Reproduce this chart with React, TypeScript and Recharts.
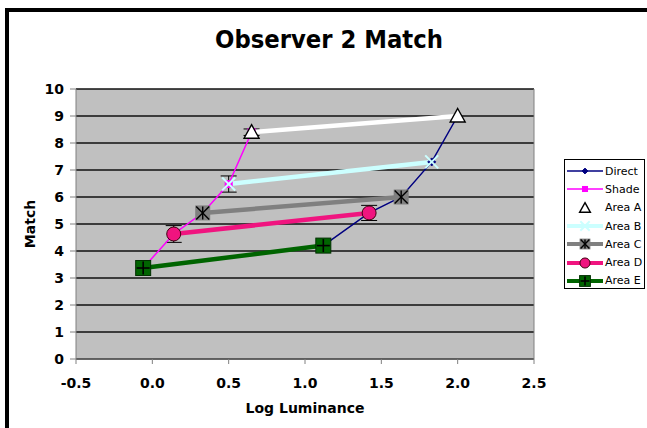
import { CartesianGrid, ErrorBar, Line, LineChart, ReferenceLine, XAxis, YAxis } from 'recharts';

// axis ticks
const xTicks = [-0.5, 0, 0.5, 1, 1.5, 2, 2.5];
const yTicks = [0, 1, 2, 3, 4, 5, 6, 7, 8, 9, 10];

// Direct (log luminance, match, error)
const directX = [1.12, 1.42, 1.63, 1.83, 2.0];
const directY = [4.2, 5.41, 6.0, 7.3, 9.0];
const directErr = [null, 0.28, null, null, null];

// Shade
const shadeX = [-0.06, 0.14, 0.33, 0.5, 0.65];
const shadeY = [3.37, 4.63, 5.41, 6.48, 8.4];
const shadeErr = [null, 0.31, null, 0.3, 0.12];

// Areas: shade point -> direct point
const areaAX = [0.65, 2.0];
const areaAY = [8.4, 9.0];
const areaBX = [0.5, 1.83];
const areaBY = [6.48, 7.3];
const areaCX = [0.33, 1.63];
const areaCY = [5.41, 6.0];
const areaDX = [0.14, 1.42];
const areaDY = [4.63, 5.41];
const areaEX = [-0.06, 1.12];
const areaEY = [3.37, 4.2];

type Kind = 'diamond' | 'square' | 'triangle' | 'xmark' | 'star' | 'circle' | 'plus';

const toPoints = (xs: number[], ys: number[], errs?: (number | null)[]) =>
  xs.map((x, i) => ({ x, y: ys[i], err: errs ? errs[i] : null }));

const series = [
  { name: 'Direct', data: toPoints(directX, directY, directErr), color: '#000080', width: 1.5, kind: 'diamond' as Kind },
  { name: 'Shade', data: toPoints(shadeX, shadeY, shadeErr), color: '#ff00ff', width: 1.5, kind: 'square' as Kind },
  { name: 'Area A', data: toPoints(areaAX, areaAY), color: '#ffffff', width: 4.5, kind: 'triangle' as Kind },
  { name: 'Area B', data: toPoints(areaBX, areaBY), color: '#ccffff', width: 4.5, kind: 'xmark' as Kind },
  { name: 'Area C', data: toPoints(areaCX, areaCY), color: '#808080', width: 4.5, kind: 'star' as Kind },
  { name: 'Area D', data: toPoints(areaDX, areaDY), color: '#f0147f', width: 4.5, kind: 'circle' as Kind },
  { name: 'Area E', data: toPoints(areaEX, areaEY), color: '#006400', width: 4.5, kind: 'plus' as Kind },
];

function Marker({ kind, cx, cy, s = 1 }: { kind: Kind; cx: number; cy: number; s?: number }) {
  switch (kind) {
    case 'diamond':
      return <polygon points={`${cx},${cy - 4 * s} ${cx + 4 * s},${cy} ${cx},${cy + 4 * s} ${cx - 4 * s},${cy}`} fill="#000080" stroke="#000080" />;
    case 'square':
      return <rect x={cx - 3.5 * s} y={cy - 3.5 * s} width={7 * s} height={7 * s} fill="#ff00ff" stroke="#ff00ff" />;
    case 'triangle': {
      const h = 7.5 * s;
      return <polygon points={`${cx},${cy - h} ${cx + h},${cy + h * 0.8} ${cx - h},${cy + h * 0.8}`} fill="#ffffff" stroke="#000" strokeWidth={1.4} />;
    }
    case 'xmark': {
      const r = 6.5 * s;
      return (
        <g stroke="#ccffff" strokeWidth={2}>
          <line x1={cx - r} y1={cy - r} x2={cx + r} y2={cy + r} />
          <line x1={cx - r} y1={cy + r} x2={cx + r} y2={cy - r} />
        </g>
      );
    }
    case 'star': {
      const r = 7.5 * s;
      return (
        <g>
          <rect x={cx - r} y={cy - r} width={2 * r} height={2 * r} fill="#808080" />
          <g stroke="#000" strokeWidth={1.4}>
            <line x1={cx - r + 1} y1={cy - r + 1} x2={cx + r - 1} y2={cy + r - 1} />
            <line x1={cx - r + 1} y1={cy + r - 1} x2={cx + r - 1} y2={cy - r + 1} />
            <line x1={cx} y1={cy - r + 1} x2={cx} y2={cy + r - 1} />
          </g>
        </g>
      );
    }
    case 'circle':
      return <circle cx={cx} cy={cy} r={7 * s} fill="#f0147f" stroke="#400010" strokeWidth={1} />;
    case 'plus': {
      const r = 7.5 * s;
      return (
        <g>
          <rect x={cx - r} y={cy - r} width={2 * r} height={2 * r} fill="#006400" stroke="#003000" strokeWidth={1} />
          <g stroke="#000" strokeWidth={1.6}>
            <line x1={cx - r + 1} y1={cy} x2={cx + r - 1} y2={cy} />
            <line x1={cx} y1={cy - r + 1} x2={cx} y2={cy + r - 1} />
          </g>
        </g>
      );
    }
  }
  return null;
}

const tickStyle = { fontFamily: 'DejaVu Sans', fontWeight: 'bold', fontSize: 14, fill: '#000' };

const YTitle = ({ viewBox }: any) => {
  const cx = viewBox.x + 24;
  const cy = viewBox.y + viewBox.height / 2;
  return (
    <text x={cx} y={cy} transform={`rotate(-90 ${cx} ${cy})`} textAnchor="middle" dominantBaseline="central"
      fontFamily="DejaVu Sans" fontWeight="bold" fontSize={14} fill="#000">
      Match
    </text>
  );
};

function LegendBox() {
  return (
    <div style={{ position: 'absolute', left: 564, top: 159, width: 81, height: 130, border: '1px solid #000', background: '#fff', boxSizing: 'border-box', paddingTop: 2 }}>
      {series.map(s => (
        <div key={s.name} style={{ display: 'flex', alignItems: 'center', height: 18.3 }}>
          <svg width={40} height={16} style={{ flex: 'none' }}>
            {s.kind !== 'triangle' && (
              <line x1={2} y1={8} x2={38} y2={8} stroke={s.color} strokeWidth={s.width === 1.5 ? 1.5 : 4} />
            )}
            <Marker kind={s.kind} cx={20} cy={8} s={0.72} />
          </svg>
          <span style={{ fontFamily: 'DejaVu Sans', fontSize: 11, color: '#000', whiteSpace: 'nowrap' }}>{s.name}</span>
        </div>
      ))}
    </div>
  );
}

export default function App() {
  return (
    <div style={{ position: 'absolute', left: 0, top: 0, width: 647, height: 428, background: '#fff', overflow: 'hidden' }}>
      <div style={{ position: 'absolute', left: 5, top: 8, width: 642, height: 4, background: '#000' }} />
      <div style={{ position: 'absolute', left: 5, top: 8, width: 4, height: 420, background: '#000' }} />
      <svg width={647} height={60} style={{ position: 'absolute', left: 0, top: 0 }}>
        <text x={329} y={48} textAnchor="middle" fontFamily="DejaVu Sans" fontWeight="bold" fontSize={25}
          textLength={228} lengthAdjust="spacingAndGlyphs" fill="#000">
          Observer 2 Match
        </text>
      </svg>
      <div style={{ position: 'absolute', left: 0, top: 0 }}>
        <LineChart width={647} height={428} margin={{ top: 89, right: 113, left: 6, bottom: 13 }}>
          <CartesianGrid vertical={false} stroke="#111" strokeWidth={1.4} fill="#c0c0c0" fillOpacity={1} />
          <XAxis
            type="number"
            dataKey="x"
            domain={[-0.5, 2.5]}
            ticks={xTicks}
            tickFormatter={(v: number) => v.toFixed(1)}
            tick={tickStyle}
            stroke="#808080"
            tickSize={5}
            tickMargin={14}
            height={56}
            label={{ value: 'Log Luminance', position: 'insideBottom', offset: 2, style: { fontFamily: 'DejaVu Sans', fontWeight: 'bold', fontSize: 14, fill: '#000' } }}
          />
          <YAxis
            type="number"
            dataKey="y"
            domain={[0, 10]}
            ticks={yTicks}
            tick={tickStyle}
            stroke="#808080"
            tickSize={6}
            tickMargin={6}
            width={70}
            label={{ content: YTitle }}
          />
          <ReferenceLine x={2.5} stroke="#808080" />
          {series.map(s => (
            <Line
              key={s.name}
              data={s.data}
              dataKey="y"
              name={s.name}
              type="linear"
              stroke={s.color}
              strokeWidth={s.width}
              isAnimationActive={false}
              legendType="none"
              dot={(p: any) => <Marker key={`${s.name}-${p.index}`} kind={s.kind} cx={p.cx} cy={p.cy} />}
              activeDot={false}
            >
              {s.width === 1.5 && <ErrorBar dataKey="err" direction="y" width={8} stroke="#000" strokeWidth={1} />}
            </Line>
          ))}
        </LineChart>
      </div>
      <LegendBox />
    </div>
  );
}
